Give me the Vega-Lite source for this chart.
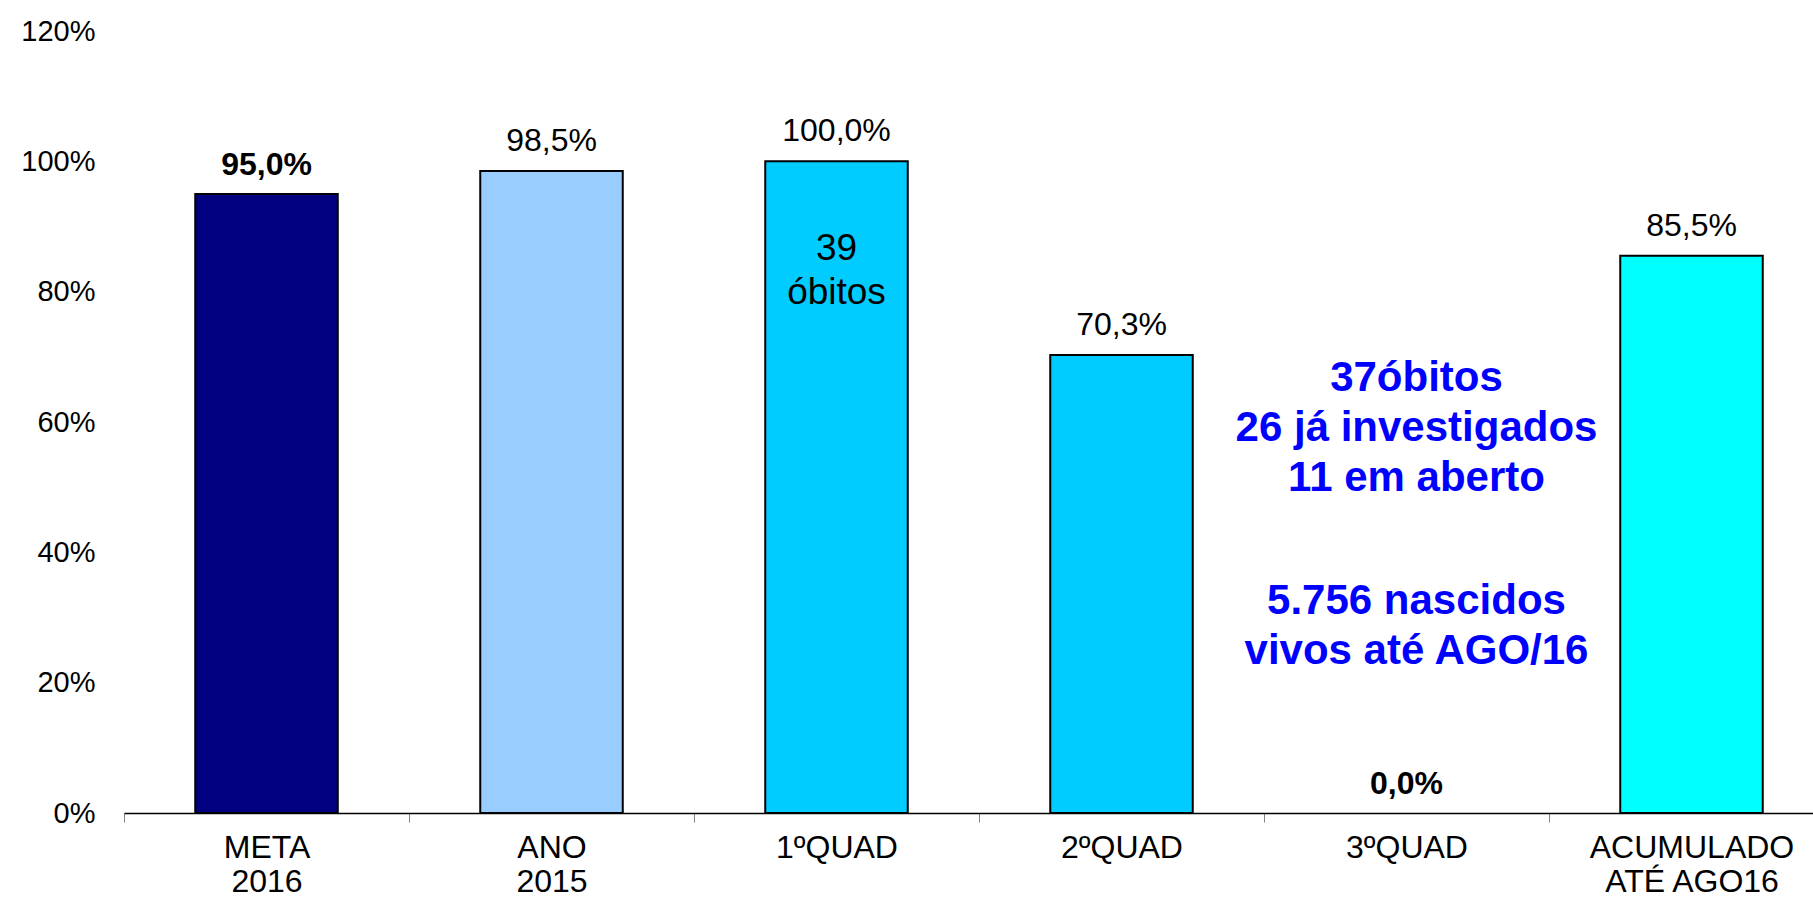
{
  "$schema": "https://vega.github.io/schema/vega-lite/v6.json",
  "width": 1689,
  "height": 782,
  "autosize": {"type": "none"},
  "padding": {"left": 124, "top": 31, "right": 0, "bottom": 86},
  "background": "white",
  "config": {
    "locale": {"number": {"decimal": ",", "thousands": ".", "grouping": [3], "currency": ["R$", ""]}},
    "view": {"stroke": null},
    "font": "Liberation Sans",
    "text": {"font": "Liberation Sans"}
  },
  "data": {
    "values": [
      {"cat": "META|2016", "value": 0.95},
      {"cat": "ANO|2015", "value": 0.985},
      {"cat": "1ºQUAD", "value": 1.0},
      {"cat": "2ºQUAD", "value": 0.703},
      {"cat": "3ºQUAD", "value": 0.0},
      {"cat": "ACUMULADO|ATÉ AGO16", "value": 0.855}
    ]
  },
  "encoding": {
    "x": {
      "field": "cat",
      "type": "nominal",
      "sort": null,
      "scale": {
        "domain": ["META|2016", "ANO|2015", "1ºQUAD", "2ºQUAD", "3ºQUAD", "ACUMULADO|ATÉ AGO16"],
        "range": [0, 1710], "paddingInner": 0, "paddingOuter": 0
      },
      "axis": {
        "title": null,
        "labelAngle": 0,
        "labelExpr": "split(datum.label, '|')",
        "labelFont": "Liberation Sans",
        "labelFontSize": 32,
        "labelColor": "black",
        "labelLineHeight": 34,
        "labelPadding": 10,
        "labelBaseline": "top",
        "labelLimit": 0,
        "tickBand": "extent",
        "tickColor": "#808080",
        "tickSize": 9,
        "tickWidth": 1,
        "domainColor": "black",
        "domainWidth": 1.5
      }
    },
    "y": {
      "field": "value",
      "type": "quantitative",
      "scale": {"domain": [0, 1.2], "nice": false},
      "axis": {
        "title": null,
        "values": [0, 0.2, 0.4, 0.6, 0.8, 1.0, 1.2],
        "format": ".0%",
        "grid": false,
        "domain": false,
        "ticks": false,
        "labelFont": "Liberation Sans",
        "labelFontSize": 29,
        "labelColor": "black",
        "labelPadding": 29
      }
    }
  },
  "layer": [
    {
      "transform": [{"filter": "datum.value > 0"}],
      "mark": {"type": "bar", "width": {"band": 0.5}, "stroke": "black", "strokeWidth": 2},
      "encoding": {
        "color": {
          "field": "cat",
          "type": "nominal",
          "legend": null,
          "scale": {
            "domain": ["META|2016", "ANO|2015", "1ºQUAD", "2ºQUAD", "3ºQUAD", "ACUMULADO|ATÉ AGO16"],
            "range": ["#000080", "#99ccff", "#00ccff", "#00ccff", "#00ccff", "#00ffff"]
          }
        }
      }
    },
    {
      "transform": [{"filter": "datum.cat === 'META|2016' || datum.cat === '3ºQUAD'"}],
      "mark": {"type": "text", "fontSize": 32, "fontWeight": "bold", "baseline": "alphabetic", "dy": -19, "color": "black"},
      "encoding": {"text": {"field": "value", "type": "quantitative", "format": ".1%"}}
    },
    {
      "transform": [{"filter": "datum.cat !== 'META|2016' && datum.cat !== '3ºQUAD'"}],
      "mark": {"type": "text", "fontSize": 32, "baseline": "alphabetic", "dy": -20, "color": "black"},
      "encoding": {"text": {"field": "value", "type": "quantitative", "format": ".1%"}}
    },
    {
      "data": {"values": [{"cat": "1ºQUAD", "pos": 0.865, "note": "39\nóbitos"}]},
      "mark": {"type": "text", "fontSize": 37, "baseline": "middle", "lineBreak": "\n", "lineHeight": 44, "color": "black"},
      "encoding": {
        "y": {"field": "pos", "type": "quantitative"},
        "text": {"field": "note"}
      }
    },
    {
      "data": {"values": [
        {"cat": "3ºQUAD", "pos": 0.668, "note": "37óbitos\n26 já investigados\n11 em aberto"},
        {"cat": "3ºQUAD", "pos": 0.325, "note": "5.756 nascidos\nvivos até AGO/16"}
      ]},
      "mark": {"type": "text", "fontSize": 42, "fontWeight": "bold", "baseline": "middle", "lineBreak": "\n", "lineHeight": 50, "color": "#0000ff", "dx": 10},
      "encoding": {
        "y": {"field": "pos", "type": "quantitative"},
        "text": {"field": "note"}
      }
    }
  ]
}
